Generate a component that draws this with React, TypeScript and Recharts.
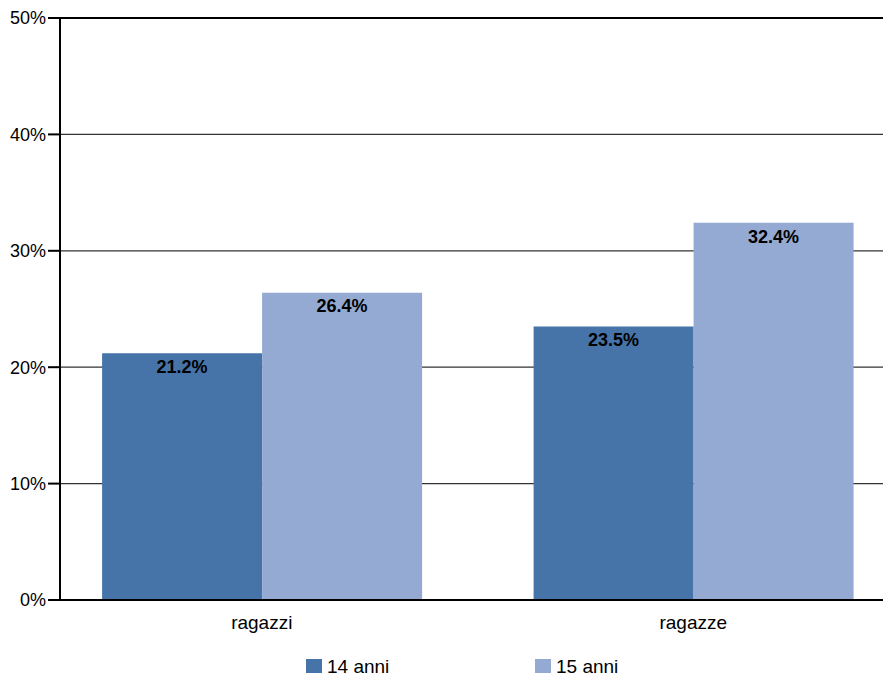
import React from 'react';
import {
  BarChart,
  Bar,
  XAxis,
  YAxis,
  CartesianGrid,
  ReferenceLine,
  Legend,
  LabelList
} from 'recharts';

const categories = ['ragazzi', 'ragazze'];
const anni14 = [21.2, 23.5];
const anni15 = [26.4, 32.4];
const yTicks = [0, 10, 20, 30, 40, 50];

const COLOR_14 = '#4674a8';
const COLOR_15 = '#95aad2';
const FONT = 'Liberation Sans, Arial, sans-serif';

const chartData = categories.map((name, i) => ({
  name,
  a14: anni14[i],
  a15: anni15[i]
}));

const renderLegend = () => (
  <div style={{ position: 'relative', height: 24, fontFamily: FONT, fontSize: 19, color: '#000' }}>
    <div style={{ position: 'absolute', left: 306, top: 0, display: 'flex', alignItems: 'center' }}>
      <span style={{ width: 16, height: 16, background: COLOR_14, display: 'inline-block', marginRight: 5 }} />
      14 anni
    </div>
    <div style={{ position: 'absolute', left: 535, top: 0, display: 'flex', alignItems: 'center' }}>
      <span style={{ width: 16, height: 16, background: COLOR_15, display: 'inline-block', marginRight: 5 }} />
      15 anni
    </div>
  </div>
);

const App: React.FC = () => {
  return (
    <div style={{ position: 'absolute', left: 0, top: 0, width: 883, height: 673, overflow: 'hidden', background: '#fff' }}>
      <BarChart
        width={920}
        height={673}
        data={chartData}
        margin={{ top: 18, right: 11, left: 0, bottom: 0 }}
        barGap={0}
        barCategoryGap="13%"
      >
        <CartesianGrid horizontal vertical={false} stroke="#333" strokeWidth={1.2} />
        <XAxis
          dataKey="name"
          height={73}
          padding={{ left: -14, right: 0 }}
          axisLine={{ stroke: '#000', strokeWidth: 2 }}
          tickLine={false}
          tickSize={0}
          tickMargin={16}
          tick={{ fill: '#000', fontSize: 19, fontFamily: FONT }}
        />
        <YAxis
          width={60}
          domain={[0, 50]}
          ticks={yTicks}
          interval={0}
          tickFormatter={(v: number) => `${v}%`}
          axisLine={{ stroke: '#000', strokeWidth: 2 }}
          tickLine={{ stroke: '#000', strokeWidth: 2 }}
          tickSize={12}
          tickMargin={2}
          tick={{ fill: '#000', fontSize: 18, fontFamily: FONT }}
        />
        <ReferenceLine y={50} stroke="#000" strokeWidth={2} />
        <Legend
          layout="horizontal"
          verticalAlign="middle"
          align="center"
          content={renderLegend}
          wrapperStyle={{ top: 656, left: 0, width: 883 }}
        />
        <Bar dataKey="a14" name="14 anni" fill={COLOR_14} isAnimationActive={false}>
          <LabelList
            dataKey="a14"
            position="insideTop"
            offset={7}
            formatter={(v: number) => `${v.toFixed(1)}%`}
            style={{ fill: '#000', fontWeight: 'bold', fontSize: 18, fontFamily: FONT }}
          />
        </Bar>
        <Bar dataKey="a15" name="15 anni" fill={COLOR_15} isAnimationActive={false}>
          <LabelList
            dataKey="a15"
            position="insideTop"
            offset={7}
            formatter={(v: number) => `${v.toFixed(1)}%`}
            style={{ fill: '#000', fontWeight: 'bold', fontSize: 18, fontFamily: FONT }}
          />
        </Bar>
      </BarChart>
    </div>
  );
};

export default App;
